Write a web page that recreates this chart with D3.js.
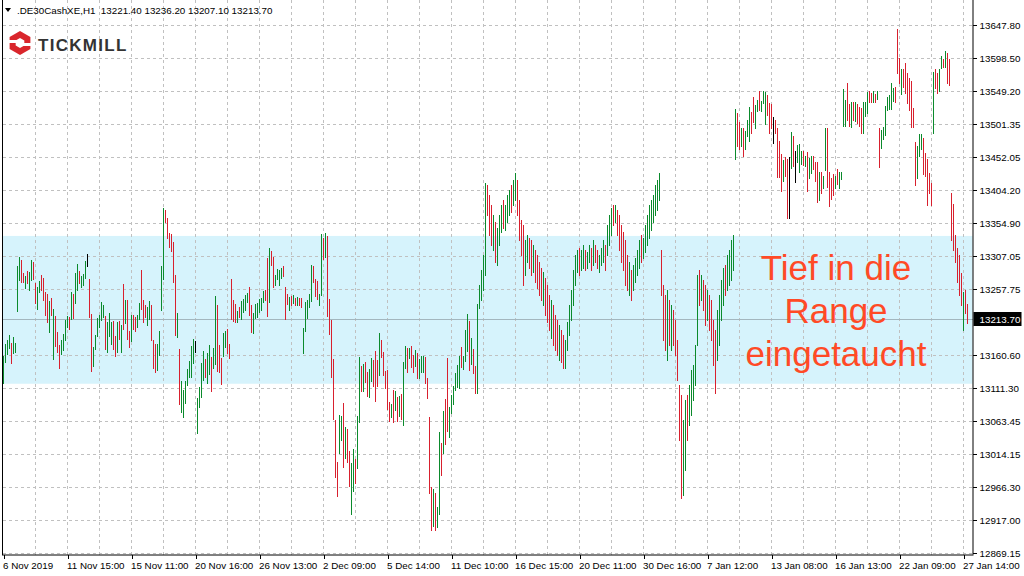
<!DOCTYPE html>
<html><head><meta charset="utf-8">
<script src="https://cdn.jsdelivr.net/npm/d3@7"></script>
<style>body{margin:0;background:#fff}svg{display:block}</style>
</head><body>
<svg id="c" width="1024" height="576"></svg>
<script>
const symbolTitle = ".DE30CashXE,H1";
const lastOHLC = ["13221.40", "13236.20", "13207.10", "13213.70"];
const lastPrice = 13213.70;
const rangeBand = [13118, 13336];
const annotation = ["Tief in die", "Range", "eingetaucht"];
const yTicks = [13647.80, 13598.50, 13549.20, 13501.35, 13452.05, 13404.20, 13354.90, 13307.05, 13257.75, 13160.60, 13111.30, 13063.45, 13014.15, 12966.30, 12917.00, 12869.15];
const xLabels = ["6 Nov 2019", "11 Nov 15:00", "15 Nov 11:00", "20 Nov 16:00", "26 Nov 13:00", "2 Dec 09:00", "5 Dec 14:00", "11 Dec 10:00", "16 Dec 15:00", "20 Dec 11:00", "30 Dec 16:00", "7 Jan 12:00", "13 Jan 08:00", "16 Jan 13:00", "22 Jan 09:00", "27 Jan 14:00"];
const highs = [13159,13177,13183,13190,13178,13187,13178,13292,13305,13300,
13281,13277,13284,13283,13300,13298,13267,13261,13270,13278,
13274,13253,13250,13240,13244,13228,13218,13194,13175,13182,
13191,13212,13218,13216,13253,13250,13281,13295,13284,13277,
13280,13299,13309,13272,13221,13172,13190,13215,13219,13239,
13234,13218,13209,13222,13209,13210,13188,13209,13210,13205,
13265,13241,13241,13196,13219,13219,13216,13219,13237,13286,
13241,13234,13231,13240,13234,13182,13177,13177,13196,13292,
13377,13374,13362,13340,13339,13327,13278,13222,13169,13122,
13109,13122,13140,13151,13174,13184,13181,13097,13113,13149,
13166,13154,13163,13175,13157,13171,13247,13234,13175,13156,
13193,13196,13199,13177,13272,13241,13236,13225,13231,13240,
13243,13249,13252,13261,13234,13222,13236,13237,13243,13244,
13255,13256,13303,13318,13314,13305,13278,13287,13286,13289,
13292,13261,13250,13246,13247,13249,13244,13246,13244,13244,
13200,13239,13241,13250,13293,13292,13272,13270,13250,13339,
13333,13340,13336,13243,13212,13154,13064,13003,13072,13070,
13090,13054,13051,13019,13001,13022,13007,13070,13157,13144,
13147,13150,13135,13140,13156,13153,13166,13153,13193,13182,
13165,13137,13138,13091,13088,13109,13107,13098,13100,13103,
13150,13174,13171,13171,13174,13160,13168,13163,13154,13159,
13159,13157,13126,13069,12966,12963,12957,12936,13047,13031,
13078,13095,13156,13084,13101,13115,13134,13146,13159,13172,
13159,13197,13221,13210,13185,13169,13144,13236,13264,
13286,13308,13414,13411,13396,13382,13367,13357,13348,13367,
13382,13389,13382,13396,13404,13411,13418,13429,13418,13389,
13360,13352,13330,13337,13333,13330,13323,13315,13308,13298,
13289,13283,13274,13264,13249,13242,13234,13219,13212,13205,
13197,13190,13183,13209,13234,13256,13286,13308,13315,13318,
13315,13323,13315,13312,13323,13318,13330,13323,13315,13308,
13318,13330,13323,13352,13367,13377,13382,13382,13374,13367,
13352,13342,13330,13308,13298,13286,13293,13303,13315,13330,
13337,13333,13352,13367,13382,13389,13396,13411,13418,13429,
13315,13264,13249,13256,13242,13234,13227,13212,13183,13116,
13101,13065,13094,13101,13116,13138,13146,13175,13278,13286,
13278,13271,13264,13256,13249,13242,13212,13197,13227,13249,
13271,13289,13293,13308,13315,13330,13337,13523,13517,13504,
13495,13495,13491,13507,13526,13519,13541,13529,13536,13550,
13535,13550,13548,13544,13532,13531,13511,13507,13495,13476,
13457,13448,13452,13449,13452,13489,13483,13461,13470,13471,
13461,13461,13454,13460,13451,13454,13454,13445,13445,13430,
13431,13425,13495,13495,13431,13421,13427,13425,13435,13430,
13430,13553,13536,13562,13531,13534,13534,13534,13531,13526,
13525,13534,13534,13548,13550,13547,13550,13545,13550,13495,
13492,13497,13528,13541,13544,13562,13554,13556,13641,13598,
13582,13582,13591,13576,13569,13564,13525,13474,13469,13486,
13486,13480,13458,13449,13429,13414,13578,13582,13576,13582,
13601,13597,13609,13606,13597,13399,13383,13337,13318,13308,
13281,13253,13256,13236.2];
const lows = [13119,13150,13162,13171,13149,13163,13165,13225,13271,13268,
13268,13259,13267,13256,13271,13272,13237,13228,13253,13256,
13241,13219,13209,13194,13219,13154,13174,13165,13141,13162,
13168,13182,13202,13199,13213,13215,13237,13256,13267,13261,
13264,13274,13292,13216,13137,13144,13169,13188,13202,13212,
13216,13169,13165,13188,13177,13169,13159,13165,13184,13165,
13199,13208,13184,13172,13181,13199,13196,13202,13213,13228,
13209,13216,13205,13213,13182,13141,13135,13138,13160,13227,
13272,13357,13333,13320,13314,13268,13190,13187,13088,13076,
13069,13090,13116,13128,13128,13149,13165,13045,13084,13098,
13123,13128,13119,13132,13107,13141,13147,13137,13135,13118,
13159,13172,13163,13156,13213,13210,13209,13209,13216,13213,
13224,13227,13239,13219,13194,13193,13215,13216,13224,13227,
13239,13241,13218,13239,13293,13261,13264,13272,13264,13274,
13277,13213,13236,13227,13234,13237,13234,13234,13234,13231,
13163,13196,13215,13231,13240,13268,13247,13243,13234,13249,
13302,13305,13218,13191,13128,13066,12980,12952,13016,13035,
12995,13008,13003,12967,12926,12960,12972,12994,13062,13107,
13107,13121,13100,13098,13122,13115,13092,13115,13131,13157,
13131,13112,13081,13063,13069,13062,13079,13063,13070,13066,
13057,13141,13135,13156,13143,13135,13144,13126,13126,13135,
13135,13119,13097,12957,12902,12908,12902,12907,12926,12983,
13016,13029,13048,13039,13075,13088,13109,13113,13112,13143,
13140,13151,13166,13138,13147,13134,13104,13104,13230,
13242,13256,13278,13367,13337,13323,13315,13298,13293,13323,
13342,13348,13345,13357,13367,13371,13382,13389,13367,13330,
13308,13264,13278,13298,13289,13278,13283,13268,13259,13249,
13242,13234,13219,13209,13197,13185,13175,13168,13160,13153,
13150,13141,13141,13168,13190,13212,13234,13264,13283,13278,
13286,13289,13286,13289,13298,13286,13293,13298,13289,13283,
13293,13298,13286,13308,13323,13337,13352,13357,13337,13315,
13298,13286,13264,13256,13249,13242,13256,13268,13278,13289,
13298,13303,13312,13323,13333,13345,13357,13367,13374,13389,
13249,13183,13168,13153,13175,13168,13175,13160,13124,13035,
12949,12954,12991,13035,13057,13072,13094,13116,13175,13234,
13242,13227,13205,13212,13197,13183,13146,13104,13153,13175,
13212,13234,13249,13256,13264,13271,13286,13449,13469,13464,
13469,13454,13464,13483,13476,13488,13504,13495,13520,13522,
13520,13532,13501,13514,13488,13495,13473,13488,13423,13423,
13402,13417,13425,13362,13362,13436,13439,13415,13445,13431,
13442,13440,13439,13402,13421,13429,13434,13417,13386,13389,
13399,13406,13433,13408,13380,13391,13396,13406,13412,13406,
13420,13498,13498,13507,13498,13497,13507,13505,13502,13498,
13488,13488,13513,13517,13534,13534,13534,13534,13538,13438,
13466,13479,13485,13522,13523,13523,13535,13534,13576,13562,
13545,13556,13547,13532,13522,13497,13497,13411,13421,13454,
13464,13427,13425,13382,13399,13382,13488,13554,13547,13550,
13584,13585,13585,13562,13559,13330,13315,13298,13268,13249,
13234,13197,13222,13207.1];
const dirs = ("ggggrggggr"+"rgrggrrggr"+"rrrgrgrrrg"+"gggrgrggrg"+"ggnrrggggg"+
"grgggrrgrg"+"rgrrgrrggr"+"rrggrrrggg"+"grrrrrrgrg"+"ggggggnggg"+
"grggrggrrr"+"ggrrrrrgrg"+"gggrrggggg"+"grrgrrgggg"+"rrrgrgrgrr"+
"gggggrrrgg"+"rgrrrrrrgg"+"rgrrggrggr"+"grrggrrrgr"+"rrrrgrgrgr"+
"ggrgrrgrgg"+"grrrrgrggr"+"grrggggggr"+"gggrgrrgg"+
"gggrrrgrgg"+"grgggrggrr"+"rrggrrgrrr"+"rgrrrgrrrg"+"rrgggggggr"+
"ggrggrgrrg"+"ggrgggrgrr"+"rrrrgrgggg"+"rggggggggg"+"rrrgrgrrrr"+
"rggrgggggr"+"grrgrrrrgg"+"ggrgggggrr"+"grgggrrggr"+"gggrrrnrrr"+
"rgrrngrngg"+"grgrggrrrg"+"rggrrrrgrg"+"gggrrgrgrr"+"rgggrrgrgr"+
"gggggggrrr"+"grrrrrrrgg"+"grrrrrgrrg"+"grgrrrrrrr"+"rgrr").split("");

const totalBars = highs.length;
const bars = highs.map((h, i) => ({i, h, l: lows[i], d: dirs[i]}));

const svg = d3.select("#c");
const W = 1024, H = 576;
const plotL = 2, plotR = 972.5, plotB = 554.5;
const x = d3.scaleLinear().domain([0, totalBars - 1]).range([3.5, 3.5 + 2 * (totalBars - 1)]);
const y = d3.scaleLinear().domain([12869.15, 13647.80]).range([552.5, 24.5]);
const py = v => Math.round(y(v)) + 0.5;
const font = "Liberation Sans, Arial, sans-serif";

svg.append("rect").attr("width", W).attr("height", H).attr("fill", "#fff");

// range band
svg.append("rect")
  .attr("x", plotL + 1).attr("width", plotR - plotL - 1)
  .attr("y", y(rangeBand[1])).attr("height", y(rangeBand[0]) - y(rangeBand[1]))
  .attr("fill", "#d6f3fc");

// grid
const grid = svg.append("g").attr("stroke", "#c0c0c0").attr("stroke-dasharray", "3,3").attr("shape-rendering", "crispEdges");
grid.selectAll("line.h").data(yTicks).join("line").attr("class", "h")
  .attr("x1", plotL + 1).attr("x2", plotR).attr("y1", d => py(d)).attr("y2", d => py(d));
const vIdx = d3.range(16, totalBars, 16);
grid.selectAll("line.v").data(vIdx).join("line").attr("class", "v")
  .attr("x1", d => x(d)).attr("x2", d => x(d)).attr("y1", 0).attr("y2", plotB);

// price line
svg.append("line").attr("x1", plotL + 1).attr("x2", plotR).attr("y1", py(lastPrice)).attr("y2", py(lastPrice))
  .attr("stroke", "#a3b6be").attr("shape-rendering", "crispEdges");

// bars
const col = {g: "#0b8a2c", r: "#d8202e", n: "#000000"};
svg.append("g").attr("shape-rendering", "crispEdges").selectAll("line").data(bars).join("line")
  .attr("x1", d => x(d.i)).attr("x2", d => x(d.i))
  .attr("y1", d => Math.round(y(d.h))).attr("y2", d => Math.round(y(d.l)) + 1)
  .attr("stroke", d => col[d.d]).attr("stroke-width", 1);

// annotation
const ann = svg.append("text").attr("fill", "#ff4a26").attr("font-family", font)
  .attr("font-size", 35).attr("text-anchor", "middle");
annotation.forEach((t, i) => ann.append("tspan").attr("x", 836).attr("y", 280 + i * 43).text(t));

// left border
svg.append("line").attr("x1", plotL + 0.5).attr("x2", plotL + 0.5).attr("y1", 0).attr("y2", plotB)
  .attr("stroke", "#000").attr("shape-rendering", "crispEdges");

// right axis
const ra = svg.append("g").attr("transform", `translate(${plotR},0)`)
  .call(d3.axisRight(y).tickValues(yTicks).tickSize(4).tickPadding(3).tickFormat(d3.format(".2f")));
ra.select(".domain").attr("d", `M0.5,0V${plotB}`).attr("stroke", "#000");
ra.selectAll(".tick").attr("transform", d => `translate(0,${py(d)})`);
ra.selectAll(".tick line").attr("stroke", "#000").attr("shape-rendering", "crispEdges");
ra.selectAll(".tick text").attr("font-family", font).attr("font-size", 9.8).attr("fill", "#000");

// bottom axis
const labIdx = xLabels.map((_, i) => i * 32);
const ba = svg.append("g").attr("transform", `translate(0,${plotB})`)
  .call(d3.axisBottom(x).tickValues(labIdx).tickSize(4).tickFormat((d, i) => xLabels[i]));
ba.select(".domain").attr("d", `M${plotL},0.5H${plotR + 1}`).attr("stroke", "#000");
ba.selectAll(".tick line").attr("stroke", "#000").attr("shape-rendering", "crispEdges");
ba.selectAll(".tick text").attr("text-anchor", "start").attr("x", -1).attr("y", 8)
  .attr("font-family", font).attr("font-size", 9.8).attr("fill", "#000");

// current price label
const pl = svg.append("g").attr("transform", `translate(${plotR + 1},${py(lastPrice)})`);
pl.append("rect").attr("x", 0).attr("y", -7.5).attr("width", 48).attr("height", 14).attr("fill", "#000");
pl.append("text").attr("x", 6).attr("y", 3.5).attr("fill", "#fff").attr("font-family", font)
  .attr("font-size", 9.8).text(lastPrice.toFixed(2));

// header
svg.append("path").attr("d", "M5,8H11L8,12Z").attr("fill", "#000");
svg.append("text").attr("x", 17).attr("y", 14).attr("font-family", font)
  .attr("font-size", 9.8).attr("fill", "#000").attr("xml:space", "preserve")
  .text(symbolTitle + "  " + lastOHLC.join(" "));

// logo
const logo = svg.append("g").attr("transform", "translate(20,43)");
const hex = r => d3.range(6).map(k => { const a = Math.PI / 3 * k + Math.PI / 6; return [r * Math.cos(a), r * Math.sin(a)]; });
logo.append("path").attr("d", "M" + hex(12).join("L") + "Z").attr("fill", "#d9262c");
logo.append("path").attr("d", "M" + hex(5).join("L") + "Z").attr("fill", "#fff");
logo.append("path").attr("d", "M-12,-3L-3,-3L-3,0L-12,0Z M12,0L3,0L3,3L12,3Z").attr("fill", "#fff");
svg.append("text").attr("x", 38).attr("y", 51).attr("font-family", font)
  .attr("font-weight", "bold").attr("font-size", 17).attr("letter-spacing", 1.3).attr("fill", "#333")
  .text("TICKMILL");
</script>
</body></html>
